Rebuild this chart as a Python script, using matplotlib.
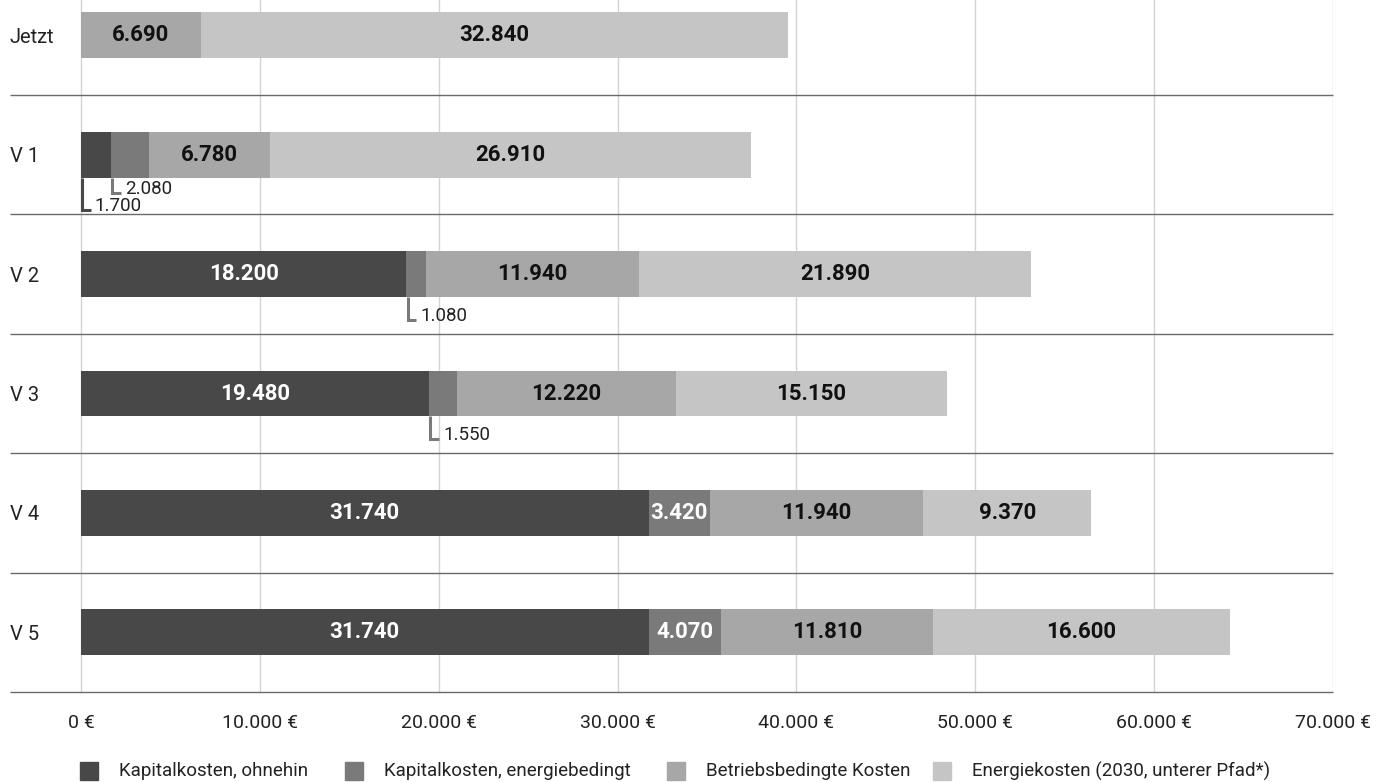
import matplotlib.pyplot as plt
from matplotlib.patches import Rectangle
from matplotlib.ticker import FuncFormatter

plt.rcParams['font.family'] = ['Roboto', 'DejaVu Sans']

# data
rows = ["Jetzt", "V 1", "V 2", "V 3", "V 4", "V 5"]
series = ["Kapitalkosten, ohnehin", "Kapitalkosten, energiebedingt",
          "Betriebsbedingte Kosten", "Energiekosten (2030, unterer Pfad*)"]
kap_ohnehin = [0, 1700, 18200, 19480, 31740, 31740]
kap_energie = [0, 2080, 1080, 1550, 3420, 4070]
betrieb = [6690, 6780, 11940, 12220, 11940, 11810]
energie = [32840, 26910, 21890, 15150, 9370, 16600]
x_ticks = [0, 10000, 20000, 30000, 40000, 50000, 60000, 70000]

colors = ['#484848', '#7a7a7a', '#a7a7a7', '#c5c5c5']
text_colors = ['white', 'white', '#111111', '#111111']
values = [kap_ohnehin, kap_energie, betrieb, energie]

W, H = 1386, 782
ROW_PX = 119.4  # pixels per row


def de_fmt(v):
    return f"{v:,.0f}".replace(",", ".")


fig = plt.figure(figsize=(W / 100, H / 100), dpi=100)
ax = fig.add_axes([10 / W, 90 / H, 1323 / W, 692 / H])

bar_h = 0.385
y = list(range(len(rows)))
lefts = [0] * len(rows)
small = {i: [] for i in y}
for s, vals in enumerate(values):
    ax.barh(y, vals, left=lefts, height=bar_h, color=colors[s], zorder=3)
    for i, v in enumerate(vals):
        if v == 0:
            continue
        if v >= 3000:
            ax.text(lefts[i] + v / 2, i, de_fmt(v), ha='center', va='center',
                    fontsize=16, fontweight='bold', color=text_colors[s], zorder=4)
        else:
            small[i].append((lefts[i], v, s))
    lefts = [l + v for l, v in zip(lefts, vals)]

# callouts for narrow segments (L-shaped connector under the bar)
for i, items in small.items():
    for level, (left, v, s) in enumerate(reversed(items)):
        drop = 23 if len(items) == 1 else 15 + 17 * level
        x0 = left + 60
        y0 = i + bar_h / 2
        y1 = y0 + drop / ROW_PX
        ax.plot([x0, x0, x0 + 500], [y0, y1, y1], color=colors[s], lw=2.2,
                solid_joinstyle='miter', solid_capstyle='butt', zorder=4)
        ax.text(x0 + 720, y1 + 1 / ROW_PX, de_fmt(v), ha='left', va='baseline',
                fontsize=13.5, color='#222222', zorder=4)

x_min = -71 / 179 * 10000
ax.set_xlim(x_min, 70000)
ax.set_ylim(5.5, 0.5 - 95 / ROW_PX)
ax.hlines([i + 0.5 for i in y], x_min, 70000, color='#6a6a6a', lw=1,
          zorder=2, clip_on=False)

ax.set_xticks(x_ticks)
ax.xaxis.set_major_formatter(FuncFormatter(lambda v, p: de_fmt(v) + " €"))
ax.grid(axis='x', color='#d3d3d3', lw=1, zorder=1)
ax.tick_params(axis='x', length=0, pad=16, labelsize=14, labelcolor='#222222')

ax.set_yticks(y)
ax.set_yticklabels(rows)
ax.tick_params(axis='y', length=0, pad=0, labelsize=14.5, labelcolor='#222222')
for t in ax.get_yticklabels():
    t.set_ha('left')

for sp in ax.spines.values():
    sp.set_visible(False)

# legend, placed by hand
legend_x = [80, 345, 667, 933]
for c, name, lx in zip(colors, series, legend_x):
    fig.add_artist(Rectangle((lx / W, 2 / H), 18 / W, 18 / H, color=c,
                             transform=fig.transFigure))
    fig.text((lx + 39) / W, 11 / H, name, ha='left', va='center',
             fontsize=13.5, color='#222222')

fig.savefig("out.png", dpi=100)
